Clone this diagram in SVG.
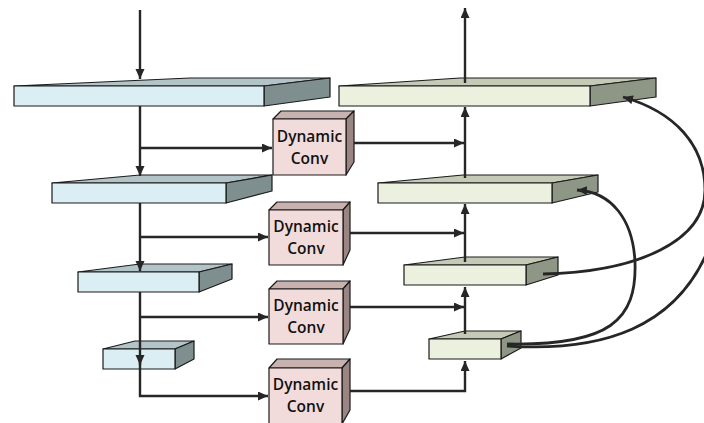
<svg xmlns="http://www.w3.org/2000/svg" width="704" height="423" viewBox="0 0 704 423">
  <defs>
    <marker id="arr" markerUnits="userSpaceOnUse" markerWidth="11" markerHeight="10" refX="10" refY="4.5" orient="auto">
      <path d="M0,0 L10,4.5 L0,9 z" fill="#262626"/>
    </marker>
    <style>
      .edge { stroke: #262626; stroke-width: 2.4; fill: none; }
      .curve { stroke: #262626; stroke-width: 2.8; fill: none; }
      .face { stroke: #1a1a1a; stroke-width: 1.2; stroke-linejoin: round; }
      .enc-front { fill: #dbeef3; }
      .enc-top { fill: #b2c4c8; }
      .enc-side { fill: #7f8f8f; }
      .dec-front { fill: #ebf1de; }
      .dec-top { fill: #c5cab6; }
      .dec-side { fill: #8e9686; }
      .dc-front { fill: #f2dcdb; }
      .dc-top { fill: #c8b2b0; }
      .dc-side { fill: #9b8583; }
      .lbl { font-family: "Open Sans", "Noto Sans", sans-serif; font-weight: 600; font-size: 15.5px; fill: #111; text-anchor: middle; }
    </style>
  </defs>

  <!-- encoder feature slabs -->
  <g id="enc1">
    <polygon class="face enc-top" points="14,86 264,86 330,78 190,78"/>
    <polygon class="face enc-side" points="264,86 330,78 330,97 264,106"/>
    <rect class="face enc-front" x="14" y="86" width="250" height="20"/>
  </g>
  <g id="enc2">
    <polygon class="face enc-top" points="52,183 226,183 272,175 140,175"/>
    <polygon class="face enc-side" points="226,183 272,175 272,191 226,203"/>
    <rect class="face enc-front" x="52" y="183" width="174" height="20"/>
  </g>
  <g id="enc3">
    <polygon class="face enc-top" points="78,272 199,272 232,264 140,264"/>
    <polygon class="face enc-side" points="199,272 232,264 232,279 199,292"/>
    <rect class="face enc-front" x="78" y="272" width="121" height="20"/>
  </g>
  <g id="enc4">
    <polygon class="face enc-top" points="103,349 175,349 194,341 135,341"/>
    <polygon class="face enc-side" points="175,349 194,341 194,359 175,369"/>
    <rect class="face enc-front" x="103" y="349" width="72" height="20"/>
  </g>

  <!-- decoder feature slabs -->
  <g id="dec1">
    <polygon class="face dec-top" points="339,86 590,86 656,78 460,78"/>
    <polygon class="face dec-side" points="590,86 656,78 656,97 590,106"/>
    <rect class="face dec-front" x="339" y="86" width="251" height="20"/>
  </g>
  <g id="dec2">
    <polygon class="face dec-top" points="378,183 552,183 598,175 463,175"/>
    <polygon class="face dec-side" points="552,183 598,175 598,192 552,203"/>
    <rect class="face dec-front" x="378" y="183" width="174" height="20"/>
  </g>
  <g id="dec3">
    <polygon class="face dec-top" points="404,265 526,265 558,257 465,257"/>
    <polygon class="face dec-side" points="526,265 558,257 558,275 526,285"/>
    <rect class="face dec-front" x="404" y="265" width="122" height="20"/>
  </g>
  <g id="dec4">
    <polygon class="face dec-top" points="429,339 501,339 521,331 465,331"/>
    <polygon class="face dec-side" points="501,339 521,331 521,348 501,359"/>
    <rect class="face dec-front" x="429" y="339" width="72" height="20"/>
  </g>

  <!-- dynamic convolution blocks -->
  <g id="dc1">
    <polygon class="face dc-top" points="273,119 346,119 354,111 281,111"/>
    <polygon class="face dc-side" points="346,119 354,111 354,162 346,175"/>
    <rect class="face dc-front" x="273" y="119" width="73" height="56"/>
    <text class="lbl" x="309.5" y="142">Dynamic</text>
    <text class="lbl" x="309.5" y="164">Conv</text>
  </g>
  <g id="dc2">
    <polygon class="face dc-top" points="269,210 343,210 350,202 277,202"/>
    <polygon class="face dc-side" points="343,210 350,202 350,250 343,265"/>
    <rect class="face dc-front" x="269" y="210" width="74" height="55"/>
    <text class="lbl" x="306" y="232">Dynamic</text>
    <text class="lbl" x="306" y="254">Conv</text>
  </g>
  <g id="dc3">
    <polygon class="face dc-top" points="269,289 343,289 350,281 277,281"/>
    <polygon class="face dc-side" points="343,289 350,281 350,329 343,344"/>
    <rect class="face dc-front" x="269" y="289" width="74" height="55"/>
    <text class="lbl" x="306" y="311">Dynamic</text>
    <text class="lbl" x="306" y="333">Conv</text>
  </g>
  <g id="dc4">
    <polygon class="face dc-top" points="269,368 342,368 350,359 277,359"/>
    <polygon class="face dc-side" points="342,368 350,359 350,410 342,424"/>
    <rect class="face dc-front" x="269" y="368" width="73" height="56"/>
    <text class="lbl" x="305.5" y="390">Dynamic</text>
    <text class="lbl" x="305.5" y="412">Conv</text>
  </g>

  <!-- connectors -->
  <g id="connectors">
    <!-- encoder path -->
    <path class="edge" d="M140,10 V79" marker-end="url(#arr)"/>
    <path class="edge" d="M140,106 V176" marker-end="url(#arr)"/>
    <path class="edge" d="M140,148 H272" marker-end="url(#arr)"/>
    <path class="edge" d="M140,203 V271" marker-end="url(#arr)"/>
    <path class="edge" d="M140,237 H268" marker-end="url(#arr)"/>
    <path class="edge" d="M140,292 V365" marker-end="url(#arr)"/>
    <path class="edge" d="M140,317 H268" marker-end="url(#arr)"/>
    <path class="edge" d="M140,360 V396 H268" marker-end="url(#arr)"/>

    <!-- dynamic conv outputs -->
    <path class="edge" d="M354,143 H464" marker-end="url(#arr)"/>
    <path class="edge" d="M350,233 H464" marker-end="url(#arr)"/>
    <path class="edge" d="M350,307 H464" marker-end="url(#arr)"/>
    <path class="edge" d="M350,391 H465 V361" marker-end="url(#arr)"/>

    <!-- decoder path -->
    <path class="edge" d="M465,334 V287" marker-end="url(#arr)"/>
    <path class="edge" d="M465,262 V204" marker-end="url(#arr)"/>
    <path class="edge" d="M465,178 V107" marker-end="url(#arr)"/>
    <path class="edge" d="M465,83 V8" marker-end="url(#arr)"/>

    <!-- skip curves -->
    <path class="curve" d="M507,344 C610,346 637,320 635,262 C633,220 612,192 577,190" marker-end="url(#arr)"/>
    <path class="curve" d="M507,346 C600,352 680,330 712,240"/>
    <path class="curve" d="M543,274 C640,272 705,240 705,190 C705,145 675,112 623,97" marker-end="url(#arr)"/>
  </g>
</svg>
